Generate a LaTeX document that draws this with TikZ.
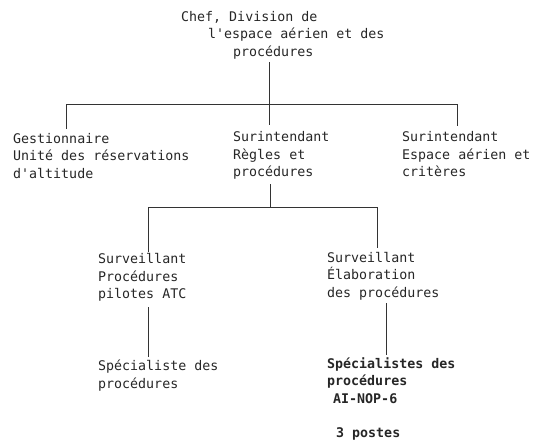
\documentclass[tikz,border=0pt]{standalone}
\usepackage{fontspec}
\setmonofont{DejaVu Sans Mono}
\begin{document}
\begin{tikzpicture}[x=1pt,y=-1pt,
  lbl/.style={anchor=base west,inner sep=0pt,align=left,text=black!85,
    font=\ttfamily\fontsize{13.3}{17.5}\selectfont},
  blbl/.style={lbl,font=\ttfamily\bfseries\fontsize{13.3}{17.5}\selectfont},
  conn/.style={draw=black!80,line width=0.9pt}]
\useasboundingbox (0,0) rectangle (537,447);
% text nodes (multi-line nodes are placed by the baseline of their last line)
\node[lbl] (chef1) at (181,21) {Chef, Division de};
\node[lbl] (chef2) at (208,38) {l'espace aérien et des};
\node[lbl] (chef3) at (233,56) {procédures};
\node[lbl] (gest) at (13,178) {Gestionnaire\\Unité des réservations\\d'altitude};
\node[lbl] (surA) at (233,176.5) {Surintendant\\Règles et\\procédures};
\node[lbl] (surB) at (402,176.5) {Surintendant\\Espace aérien et\\critères};
\node[lbl] (survA) at (98,298.5) {Surveillant\\Procédures\\pilotes ATC};
\node[lbl] (survB) at (327,297) {Surveillant\\Élaboration\\des procédures};
\node[lbl] (specA) at (98,388) {Spécialiste des\\procédures};
\node[blbl] (specB) at (327,403) {Spécialistes des\\procédures\\\hspace*{6pt}AI-NOP-6};
\node[blbl] (postes) at (336,437) {3 postes};
% connector points
\coordinate (c0) at (269,62);
\coordinate (b1) at (269,104);
\coordinate (b1l) at (66,104);
\coordinate (b1r) at (457,104);
\coordinate (gtop) at (66,129);
\coordinate (atop) at (269,125);
\coordinate (btop) at (457,126);
\coordinate (c2) at (270,184);
\coordinate (b2) at (270,207.5);
\coordinate (b2l) at (148,207.5);
\coordinate (b2r) at (377,207.5);
\coordinate (satop) at (148,252);
\coordinate (sbtop) at (377,248);
\coordinate (a3) at (148,307);
\coordinate (a4) at (148,357);
\coordinate (b3) at (386,303);
\coordinate (b4) at (386,355);
% connectors
\draw[conn] (c0) -- (b1);
\draw[conn] (gtop) -- (b1l) -- (b1r) -- (btop);
\draw[conn] (b1) -- (atop);
\draw[conn] (c2) -- (b2);
\draw[conn] (satop) -- (b2l) -- (b2r) -- (sbtop);
\draw[conn] (a3) -- (a4);
\draw[conn] (b3) -- (b4);
\end{tikzpicture}
\end{document}
